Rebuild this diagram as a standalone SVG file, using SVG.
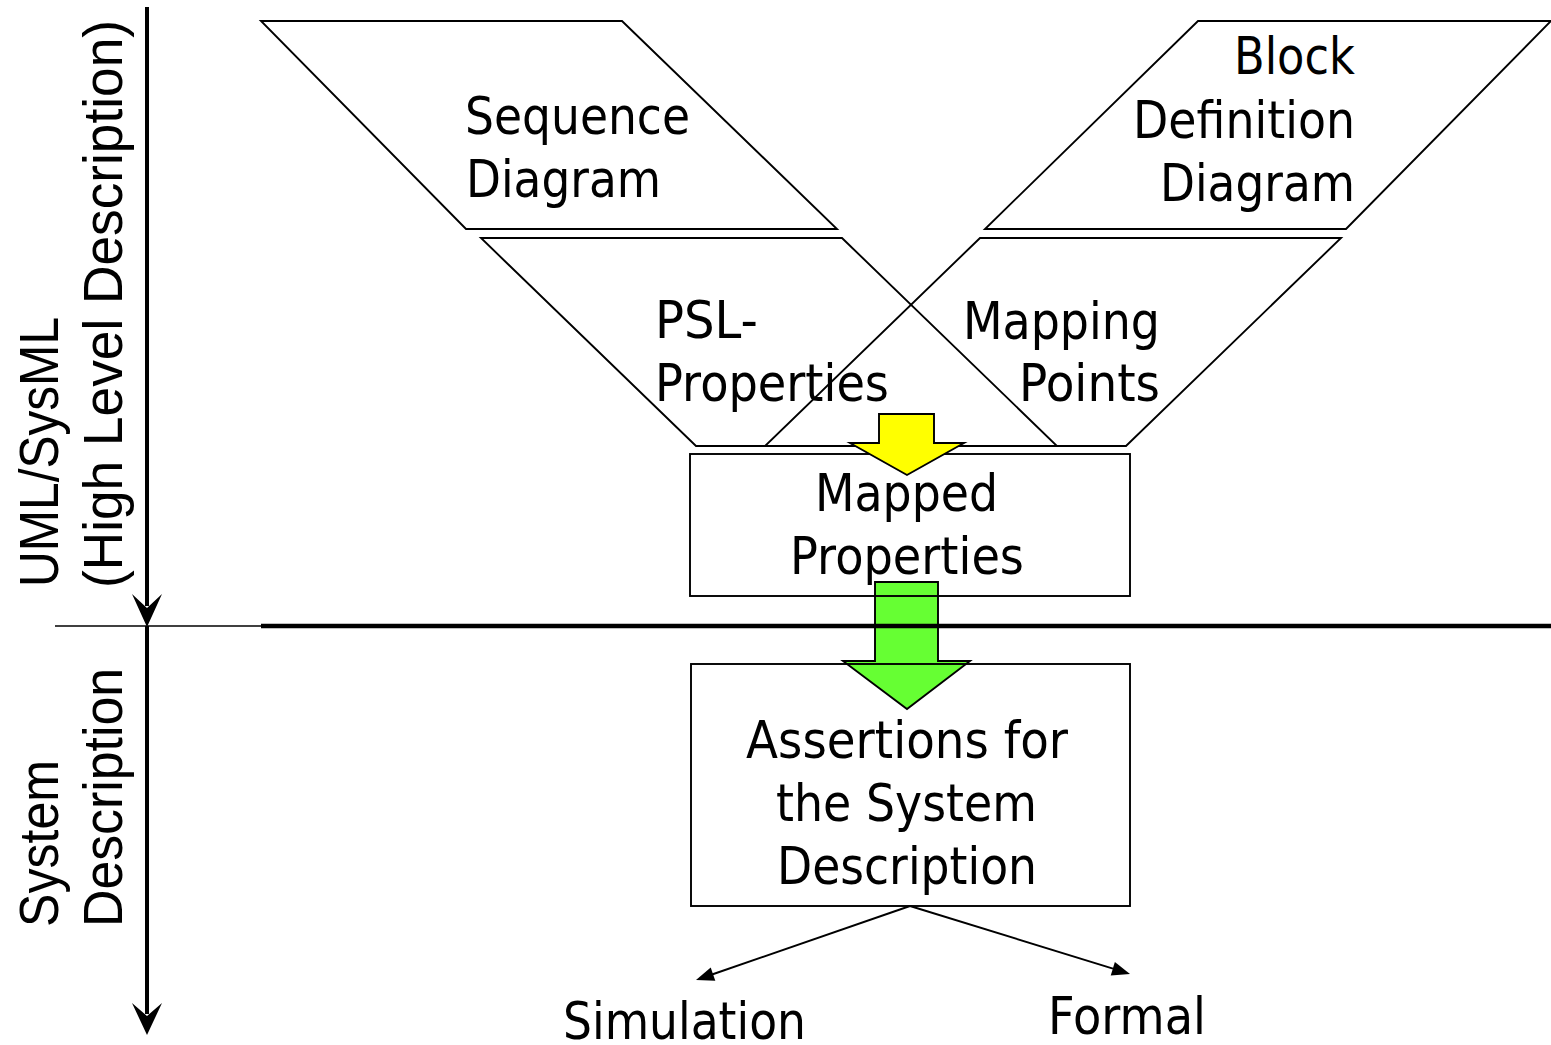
<svg xmlns="http://www.w3.org/2000/svg" width="1551" height="1045" viewBox="0 0 1551 1045">
  <style>
    .shape { fill: none; stroke: #000; stroke-width: 1.9; }
    .lbl { font-family: "DejaVu Sans", Verdana, sans-serif; font-size: 51px; fill: #000; }
    .side { font-family: "Liberation Sans", Arial, sans-serif; font-size: 56px; fill: #000; }
    .conn { stroke: #000; stroke-width: 1.9; fill: none; }
    .axis { stroke: #000; stroke-width: 4; fill: none; }
    .head { fill: #000; }
  </style>

  <!-- axis labels -->
  <g id="axis-labels">
    <text class="side" transform="translate(58,587) rotate(-90)" textLength="270" lengthAdjust="spacingAndGlyphs">UML/SysML</text>
    <text class="side" transform="translate(122,588) rotate(-90)" textLength="568" lengthAdjust="spacingAndGlyphs">(High Level Description)</text>
    <text class="side" transform="translate(58,927) rotate(-90)" textLength="167" lengthAdjust="spacingAndGlyphs">System</text>
    <text class="side" transform="translate(122,927) rotate(-90)" textLength="259" lengthAdjust="spacingAndGlyphs">Description</text>
  </g>

  <!-- left time axis and separator -->
  <g id="axis">
    <line class="axis" x1="147" y1="7" x2="147" y2="606"/>
    <path class="head" d="M132,594 L147,627 L162,594 L147,608 Z"/>
    <line class="axis" x1="147" y1="626" x2="147" y2="1014"/>
    <path class="head" d="M132,1003 L147,1035 L162,1003 L147,1016 Z"/>
    <line x1="55" y1="626" x2="262" y2="626" stroke="#000" stroke-width="1.5"/>
  </g>

  <g id="sequence-diagram">
    <polygon class="shape" points="261,21 622,21 837,229 466,229"/>
    <text class="lbl" x="465" y="134" textLength="225" lengthAdjust="spacingAndGlyphs">Sequence</text>
    <text class="lbl" x="466" y="197" textLength="195" lengthAdjust="spacingAndGlyphs">Diagram</text>
  </g>

  <g id="block-definition-diagram">
    <polygon class="shape" points="1198,21 1551,21 1346,229 985,229"/>
    <text class="lbl" x="1234" y="74" textLength="121" lengthAdjust="spacingAndGlyphs">Block</text>
    <text class="lbl" x="1133" y="138" textLength="222" lengthAdjust="spacingAndGlyphs">Definition</text>
    <text class="lbl" x="1160" y="201" textLength="195" lengthAdjust="spacingAndGlyphs">Diagram</text>
  </g>

  <g id="psl-properties">
    <polygon class="shape" points="481,238 842,238 1057,446 696,446"/>
    <text class="lbl" x="655" y="338" textLength="103" lengthAdjust="spacingAndGlyphs">PSL-</text>
    <text class="lbl" x="655" y="401" textLength="234" lengthAdjust="spacingAndGlyphs">Properties</text>
  </g>

  <g id="mapping-points">
    <polygon class="shape" points="980,238 1341,238 1126,446 765,446"/>
    <text class="lbl" x="963" y="339" textLength="197" lengthAdjust="spacingAndGlyphs">Mapping</text>
    <text class="lbl" x="1019" y="401" textLength="141" lengthAdjust="spacingAndGlyphs">Points</text>
  </g>

  <g id="mapped-properties">
    <text class="lbl" x="815" y="511" textLength="183" lengthAdjust="spacingAndGlyphs">Mapped</text>
    <text class="lbl" x="790" y="574" textLength="234" lengthAdjust="spacingAndGlyphs">Properties</text>
  </g>

  <g id="assertions">
    <text class="lbl" x="746" y="758" textLength="322" lengthAdjust="spacingAndGlyphs">Assertions for</text>
    <text class="lbl" x="776" y="821" textLength="261" lengthAdjust="spacingAndGlyphs">the System</text>
    <text class="lbl" x="777" y="884" textLength="260" lengthAdjust="spacingAndGlyphs">Description</text>
  </g>

  <g id="simulation">
    <text class="lbl" x="563" y="1039" textLength="243" lengthAdjust="spacingAndGlyphs">Simulation</text>
  </g>
  <g id="formal">
    <text class="lbl" x="1048" y="1034" textLength="158" lengthAdjust="spacingAndGlyphs">Formal</text>
  </g>

  <g id="connectors">
    <!-- green block arrow from Mapped Properties to Assertions -->
    <polygon points="875,582 938,582 938,661 970,661 907,709 843,661 875,661" fill="#66FF33" stroke="#000" stroke-width="1.9"/>
    <!-- box outlines drawn over the green arrow -->
    <rect class="shape" x="690" y="454" width="440" height="142"/>
    <rect class="shape" x="691" y="664" width="439" height="242"/>
    <line x1="261" y1="626" x2="1551" y2="626" stroke="#000" stroke-width="4.5"/>
    <!-- yellow block arrow from the property parallelograms into Mapped Properties -->
    <polygon points="879,414 934,414 934,443 964,443 907,475 850,443 879,443" fill="#FFFF00" stroke="#000" stroke-width="1.9"/>
    <!-- split to Simulation and Formal -->
    <line class="conn" x1="910" y1="906" x2="712" y2="974.5"/>
    <polygon class="head" points="696,980 715.3,980.7 710.7,967.5"/>
    <line class="conn" x1="910" y1="906" x2="1113" y2="968.7"/>
    <polygon class="head" points="1130,974 1110.7,975.4 1114.9,962"/>
  </g>
</svg>
